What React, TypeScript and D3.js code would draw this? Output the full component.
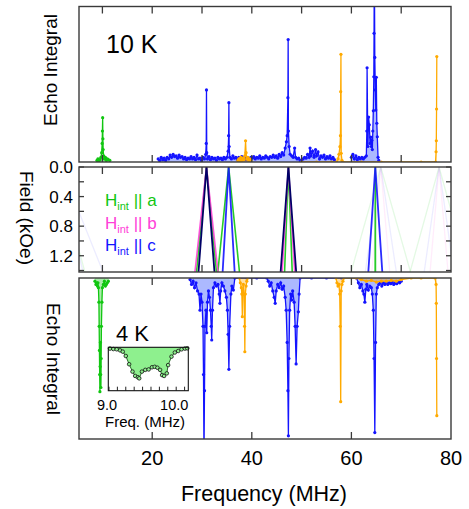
import React from 'react';
import * as d3 from 'd3';

type P = [number, number] | null;

// ---------- DATA (frequency MHz, normalised echo integral) ----------
const green10K: P[] = [
  [8.9, 0.01], [9.1, 0.02], [9.3, 0.005], [9.5, 0.015], [9.7, 0.03], [9.85, 0.06], [9.95, 0.12],
  [10.0, 0.2], [10.05, 0.286], [10.1, 0.15], [10.15, 0.08], [10.25, 0.04], [10.4, 0.02], [10.6, 0.03],
  [10.8, 0.01], [11.0, 0.02], [11.2, 0.015], [11.5, 0.01],
];

const blue10K: P[] = [
  [21.2, 0.02], [21.5, 0.01], [21.8, 0.03], [22.1, 0.015], [22.4, 0.025], [22.7, 0.01], [23.0, 0.03],
  [23.3, 0.02], [23.6, 0.045], [23.9, 0.03], [24.2, 0.05], [24.5, 0.035], [24.8, 0.04], [25.1, 0.025],
  [25.4, 0.045], [25.7, 0.03], [26.0, 0.035], [26.3, 0.02], [26.6, 0.03], [26.9, 0.015], [27.2, 0.025],
  [27.5, 0.02], [27.8, 0.035], [28.1, 0.02], [28.4, 0.03], [28.7, 0.015], [29.0, 0.045], [29.3, 0.02],
  [29.6, 0.025], [29.9, 0.01], [30.2, 0.03], [30.5, 0.02], [30.75, 0.05], [30.85, 0.12], [30.9, 0.465],
  [30.95, 0.06], [31.1, 0.02], [31.4, 0.035], [31.7, 0.015], [32.0, 0.03], [32.3, 0.02], [32.6, 0.025],
  [32.9, 0.01], [33.2, 0.03], [33.5, 0.02], [33.8, 0.025], [34.1, 0.015], [34.4, 0.03], [34.7, 0.02],
  [35.0, 0.03], [35.25, 0.07], [35.35, 0.17], [35.4, 0.383], [35.45, 0.1], [35.6, 0.03], [35.9, 0.02],
  [36.2, 0.04], [36.5, 0.025], [36.8, 0.03], [37.1, 0.015], [37.4, 0.03], [37.7, 0.02], [38.0, 0.035],
  [38.3, 0.02], [38.6, 0.03], [38.9, 0.015], [39.2, 0.025], [39.5, 0.02], [39.8, 0.03], [40.1, 0.025],
  [40.4, 0.035], [40.7, 0.02], [41.0, 0.03], [41.3, 0.025], [41.6, 0.04], [41.9, 0.02], [42.2, 0.03],
  [42.5, 0.025], [42.8, 0.04], [43.1, 0.03], [43.4, 0.02], [43.7, 0.035], [44.0, 0.03], [44.3, 0.045],
  [44.6, 0.03], [44.9, 0.04], [45.2, 0.025], [45.5, 0.05], [45.8, 0.035], [46.1, 0.06], [46.4, 0.045],
  [46.7, 0.09], [46.95, 0.13], [47.1, 0.17], [47.25, 0.415], [47.3, 0.79], [47.35, 0.2], [47.5, 0.1],
  [47.7, 0.05], [48.0, 0.04], [48.3, 0.03], [48.6, 0.09], [48.8, 0.03], [49.1, 0.02], [49.4, 0.025],
  [49.7, 0.01], [50.0, 0.0], [50.3, 0.02], [50.6, 0.03], [50.9, 0.025], [51.2, 0.05], [51.5, 0.03],
  [51.7, 0.09], [51.9, 0.04], [52.2, 0.07], [52.5, 0.03], [52.8, 0.08], [53.0, 0.04], [53.3, 0.065],
  [53.6, 0.02], [53.9, 0.04], [54.2, 0.03], [54.5, 0.045], [54.8, 0.02], [55.1, 0.035], [55.4, 0.025],
  [55.7, 0.04], [56.0, 0.02], [56.3, 0.03], [56.6, 0.015], null,
  [60.0, 0.03], [60.3, 0.05], [60.6, 0.02], [60.9, 0.04], [61.2, 0.015], [61.5, 0.03], [61.8, 0.02],
  [62.1, 0.03], [62.4, 0.02], [62.7, 0.03], [63.0, 0.04], [63.1, 0.2], [63.15, 0.608], [63.3, 0.1],
  [63.45, 0.29], [63.6, 0.24], [63.75, 0.12], [63.9, 0.16], [64.0, 0.1], [64.1, 0.14], [64.2, 0.08],
  [64.3, 0.2], [64.4, 0.33], [64.5, 0.55], [64.55, 0.83], [64.6, 1.35], [64.7, 0.675], [64.8, 0.465],
  [64.9, 0.335], [65.0, 0.546], [65.1, 0.25], [65.2, 0.163], [65.35, 0.03], [65.5, 0.01],
];

const orange10K: P[] = [
  [37.2, 0.01], [37.4, 0.02], [37.6, 0.005], [37.8, 0.03], [38.0, 0.01], [38.2, 0.025], [38.4, 0.015],
  [38.6, 0.04], [38.75, 0.137], [38.85, 0.06], [39.0, 0.02], [39.2, 0.03], [39.4, 0.01], [39.6, 0.02],
  [39.8, 0.01], null,
  [50.0, 0], [53.0, 0], [56.0, 0], [57.0, 0.0], [57.3, 0.02], [57.5, 0.05], [57.7, 0.099], [57.8, 0.17],
  [57.85, 0.454], [57.9, 0.695], [57.95, 0.056], [58.1, 0.01], [58.3, 0], [62.0, 0], [66.0, 0],
  [70.0, 0], [74.0, 0], [76.9, 0.0], [77.0, 0.066], [77.05, 0.137], [77.1, 0.342], [77.15, 0.68],
];

// 4 K: depth of the (downward-drawn) echo integral
const green4K: P[] = [
  [8.5, 0.02], [8.7, 0.04], [8.9, 0.03], [9.0, 0.05], [9.1, 0.03], [9.2, 0.06], [9.3, 0.15],
  [9.35, 0.3], [9.4, 0.45], [9.45, 0.6], [9.5, 0.706], [9.55, 0.55], [9.6, 0.4], [9.65, 0.6],
  [9.7, 0.68], [9.75, 0.5], [9.8, 0.3], [9.9, 0.15], [10.0, 0.06], [10.2, 0.04], [10.4, 0.02],
  [10.6, 0.05], [10.8, 0.04], [11.0, 0.03], [11.2, 0.02],
];

const blue4K: P[] = [
  [27.6, 0.01], [27.9, 0.04], [28.2, 0.02], [28.5, 0.06], [28.8, 0.03], [29.1, 0.08], [29.4, 0.1],
  [29.6, 0.2], [29.8, 0.1], [30.0, 0.15], [30.2, 0.3], [30.3, 0.6], [30.4, 1.1], [30.5, 0.7],
  [30.6, 0.3], [30.8, 0.2], [30.95, 0.34], [31.1, 0.15], [31.3, 0.08], [31.5, 0.12], [31.7, 0.2],
  [31.85, 0.3], [31.95, 0.385], [32.1, 0.2], [32.3, 0.06], [32.6, 0.03], [32.9, 0.05], [33.2, 0.04],
  [33.45, 0.1], [33.6, 0.157], [33.75, 0.08], [34.0, 0.03], [34.3, 0.05], [34.6, 0.08], [34.9, 0.12],
  [35.1, 0.2], [35.25, 0.35], [35.4, 0.567], [35.55, 0.3], [35.8, 0.1], [36.0, 0.05], [36.3, 0.075],
  [36.6, 0.0], [39.0, 0.0], [41.0, 0.0], [43.0, 0.0], [43.3, 0.02], [43.6, 0.05], [43.9, 0.03],
  [44.2, 0.08], [44.5, 0.12], [44.7, 0.157], [44.9, 0.08], [45.2, 0.04], [45.5, 0.06], [45.8, 0.03],
  [46.1, 0.07], [46.4, 0.05], [46.7, 0.12], [46.9, 0.2], [47.1, 0.4], [47.25, 0.7], [47.35, 0.98],
  [47.45, 0.5], [47.6, 0.2], [47.8, 0.1], [48.0, 0.137], [48.2, 0.08], [48.5, 0.15], [48.7, 0.3],
  [48.9, 0.534], [49.1, 0.3], [49.35, 0.21], [49.5, 0.1], [49.7, 0.0], [52.0, 0.0], [55.0, 0.0],
  [58.0, 0.0], [61.0, 0.0], [61.4, 0.03], [61.7, 0.06], [62.0, 0.04], [62.3, 0.08], [62.5, 0.1],
  [62.7, 0.15], [62.9, 0.07], [63.1, 0.04], [63.4, 0.075], [63.7, 0.05], [64.0, 0.06], [64.2, 0.1],
  [64.4, 0.2], [64.55, 0.5], [64.7, 0.96], [64.85, 0.4], [65.0, 0.1], [65.2, 0.06], [65.5, 0.04],
  [65.8, 0.03], [66.1, 0.05], [66.4, 0.03], [66.7, 0.04], [67.0, 0.025], [67.3, 0.04], [67.6, 0.03],
  [67.9, 0.035], [68.2, 0.025], [68.5, 0.04], [68.8, 0.03], [69.1, 0.035], [69.4, 0.025], [69.7, 0.03],
  [70.0, 0.02],
];

const orange4K: P[] = [
  [37.5, 0.0], [37.7, 0.03], [37.9, 0.06], [38.0, 0.1], [38.1, 0.24], [38.2, 0.08], [38.3, 0.04],
  [38.45, 0.1], [38.55, 0.3], [38.6, 0.458], [38.7, 0.1], [38.85, 0.05], [39.0, 0.02], [39.2, 0.0], null,
  [56.9, 0.0], [57.1, 0.03], [57.3, 0.05], [57.5, 0.04], [57.65, 0.1], [57.75, 0.3], [57.85, 0.768],
  [57.95, 0.08], [58.1, 0.04], [58.3, 0.02], [58.5, 0.0], [61.0, 0.0], [62.0, 0.01], [63.0, 0.02],
  [64.0, 0.015], [65.0, 0.025], [66.0, 0.02], [67.0, 0.02], [68.0, 0.015], [69.0, 0.02], [70.0, 0.01],
  [72.0, 0.0], [74.0, 0.0], [76.8, 0.0], [77.0, 0.04], [77.05, 0.157], [77.1, 0.5], [77.15, 0.855],
];

// inset: 4 K green line, 9.0–10.2 MHz
const insetData: [number, number][] = [
  [9.015, 0.03], [9.065, 0.04], [9.115, 0.046], [9.165, 0.07], [9.205, 0.1], [9.25, 0.2], [9.3, 0.39],
  [9.35, 0.56], [9.39, 0.66], [9.43, 0.69], [9.45, 0.715], [9.49, 0.56], [9.54, 0.52], [9.59, 0.51],
  [9.64, 0.46], [9.68, 0.45], [9.72, 0.47], [9.76, 0.52], [9.79, 0.64], [9.82, 0.66], [9.86, 0.6],
  [9.88, 0.41], [9.93, 0.215], [9.98, 0.12], [10.03, 0.085], [10.08, 0.046], [10.13, 0.03], [10.165, 0.023],
];

// Field panel: zero-field line frequency (MHz), splitting slope (MHz/kOe), field direction
const vApex = [1.67, 0.8, 1.14, 30.9, 30.9, 30.9, 35.35, 35.35, 47.35, 47.35, 47.35, 64.8, 64.8,
  65.9, 65.9, 65.9, 77.6, 77.6, 77.6];
const vSlope = [5.95, 4.0, 3.5, 1.63, 1.41, 1.13, 1.53, 0.85, 1.1, 0.89, 0.54, 0.99, 0.02,
  1.27, 2.2, 4.2, 1.27, 2.1, 4.1];
const vAxis = ['fc', 'fa', 'fc', 'b', 'a', 'n', 'a', 'c', 'n', 'b', 'a', 'c', 'a',
  'fb', 'fc', 'fa', 'fb', 'fc', 'fa'];

const topXTicks = [10, 20, 30, 40, 50, 60, 70];
const bottomXTicks = [20, 40, 60];
const xTickLabels = [20, 40, 60, 80];
const fieldTicks = [0, 0.2, 0.4, 0.6, 0.8, 1.0, 1.2, 1.4];
const fieldTickLabels = [0.0, 0.4, 0.8, 1.2];
const insetTicks = [9.0, 9.125, 9.25, 9.375, 9.5, 9.625, 9.75, 9.875, 10.0, 10.125];
const insetTickLabels = [9.0, 10.0];
const legendLabels = ['a', 'b', 'c'];

// ---------- STYLE ----------
const GREEN = '#11c611';
const BLUE = '#1414ff';
const ORANGE = '#ffaa00';
const MAGENTA = '#ff40d8';
const NAVY = '#000066';
const FONT = '"Liberation Sans", Arial, Helvetica, sans-serif';
const FRAME = '#3a3a3a';

const lineColors: Record<string, [string, number, number]> = {
  a: [GREEN, 0.9, 1.6],
  b: [MAGENTA, 0.9, 1.6],
  c: [BLUE, 0.9, 1.8],
  n: [NAVY, 1, 1.8],
  fa: ['#22cc22', 0.12, 1.3],
  fb: ['#ff60e0', 0.12, 1.3],
  fc: ['#6060ff', 0.12, 1.3],
};

const L = 79, R = 451;
const TOP = { t: 6.5, b: 162 };
const MID = { t: 167, b: 272 };
const BOT = { t: 278, b: 439 };
const INSET = { l: 108.3, r: 188.3, t: 347.3, b: 390.7 };

const x = d3.scaleLinear().domain([5.3, 80]).range([L, R]);
const yTop = d3.scaleLinear().domain([0, 1]).range([TOP.b, TOP.t + 0.5]);
const yBot = d3.scaleLinear().domain([0, 1]).range([BOT.t, BOT.b]);
const yMid = d3.scaleLinear().domain([0, 1.42]).range([MID.t, MID.b]);
const xIn = d3.scaleLinear().domain([8.99, 10.18]).range([INSET.l, INSET.r]);
const yIn = d3.scaleLinear().domain([0, 1]).range([INSET.t, INSET.b]);

function Series({ data, y, color, fill }: { data: P[]; y: any; color: string; fill: string }) {
  const line = d3.line<P>().defined((d) => d !== null).x((d) => x(d![0])).y((d) => y(d![1]));
  const area = d3.area<P>().defined((d) => d !== null).x((d) => x(d![0])).y0(y(0)).y1((d) => y(d![1]));
  const pts = data.filter((d) => d !== null) as [number, number][];
  return (
    <g>
      <path d={area(data) || ''} fill={fill} stroke="none" />
      <path d={line(data) || ''} fill="none" stroke={color} strokeWidth={1.3} />
      {pts.map((d, i) => (
        <circle key={i} cx={x(d[0])} cy={y(d[1])} r={1.6} fill={color} />
      ))}
    </g>
  );
}

function XTicks({ values, y0, y1, len }: { values: number[]; y0: number; y1: number; len: number }) {
  return (
    <g stroke={FRAME} strokeWidth={1.3}>
      {values.map((v) => (
        <g key={v}>
          <line x1={x(v)} x2={x(v)} y1={y0} y2={y0 + len} />
          <line x1={x(v)} x2={x(v)} y1={y1} y2={y1 - len} />
        </g>
      ))}
    </g>
  );
}

export default function App() {
  const vLine = d3.line<[number, number]>().x((d) => x(d[0])).y((d) => yMid(d[1]));
  const Hmax = 1.42;
  const order = ['fa', 'fb', 'fc', 'a', 'b', 'c', 'n'];
  const vIdx = vApex.map((_, i) => i).sort((a, b) => order.indexOf(vAxis[a]) - order.indexOf(vAxis[b]));
  const legendColors = [GREEN, MAGENTA, BLUE];

  const inLine = d3.line<[number, number]>().x((d) => xIn(d[0])).y((d) => yIn(d[1]));
  const inArea = d3.area<[number, number]>().x((d) => xIn(d[0])).y0(yIn(0)).y1((d) => yIn(d[1]));

  return (
    <svg width={469} height={509} style={{ position: 'absolute', left: 0, top: 0, background: '#fff' }}
      fontFamily={FONT}>
      <defs>
        <clipPath id="cTop"><rect x={L} y={TOP.t} width={R - L} height={TOP.b - TOP.t} /></clipPath>
        <clipPath id="cMid"><rect x={L} y={MID.t} width={R - L} height={MID.b - MID.t} /></clipPath>
        <clipPath id="cBot"><rect x={L} y={BOT.t} width={R - L} height={BOT.b - BOT.t} /></clipPath>
      </defs>
      <rect x={0} y={0} width={469} height={509} fill="#fff" />

      {/* ---------- top panel 10 K ---------- */}
      <g clipPath="url(#cTop)">
        <Series data={blue10K} y={yTop} color={BLUE} fill="rgba(70,100,255,0.45)" />
        <Series data={orange10K} y={yTop} color={ORANGE} fill="rgba(255,170,0,0.35)" />
        <Series data={green10K} y={yTop} color={GREEN} fill="rgba(17,198,17,0.35)" />
      </g>
      <XTicks values={topXTicks} y0={TOP.t} y1={TOP.b} len={7} />
      <rect x={L} y={TOP.t} width={R - L} height={TOP.b - TOP.t} fill="none" stroke={FRAME} strokeWidth={1.4} />
      <text x={106} y={52.5} fontSize={25}>10 K</text>
      <text transform={`translate(57,70) rotate(-90)`} fontSize={19} textAnchor="middle">Echo Integral</text>

      {/* ---------- middle panel: field ---------- */}
      <g clipPath="url(#cMid)">
        {vIdx.map((i) => {
          const f0 = vApex[i], s = vSlope[i];
          const [c, op, w] = lineColors[vAxis[i]];
          const pts: [number, number][] = [[f0 - s * Hmax, Hmax], [f0, 0], [f0 + s * Hmax, Hmax]];
          return <path key={i} d={vLine(pts) || ''} fill="none" stroke={c} strokeOpacity={op} strokeWidth={w} />;
        })}
      </g>
      <XTicks values={topXTicks} y0={MID.t} y1={MID.b} len={7} />
      <g stroke={FRAME} strokeWidth={1.3}>
        {fieldTicks.map((v) => (
          <g key={v}>
            <line x1={L} x2={L + 5} y1={yMid(v)} y2={yMid(v)} />
            <line x1={R} x2={R - 5} y1={yMid(v)} y2={yMid(v)} />
          </g>
        ))}
      </g>
      <rect x={L} y={MID.t} width={R - L} height={MID.b - MID.t} fill="none" stroke={FRAME} strokeWidth={1.4} />
      {fieldTickLabels.map((v) => (
        <text key={v} x={73} y={yMid(v) + 6} fontSize={17} textAnchor="end">{v.toFixed(1)}</text>
      ))}
      <text transform={`translate(20,218) rotate(90)`} fontSize={19} textAnchor="middle">Field (kOe)</text>
      {legendLabels.map((l, i) => (
        <text key={l} x={105} y={206 + i * 22.5} fontSize={17} fill={legendColors[i]}>
          H<tspan fontSize={11} dy={4}>int</tspan><tspan dy={-4}>{' || ' + l}</tspan>
        </text>
      ))}

      {/* ---------- bottom panel 4 K ---------- */}
      <g clipPath="url(#cBot)">
        <Series data={blue4K} y={yBot} color={BLUE} fill="rgba(70,100,255,0.45)" />
        <Series data={orange4K} y={yBot} color={ORANGE} fill="rgba(255,170,0,0.35)" />
        <Series data={green4K} y={yBot} color={GREEN} fill="rgba(17,198,17,0.35)" />
      </g>
      <XTicks values={bottomXTicks} y0={BOT.t} y1={BOT.b} len={7} />
      <rect x={L} y={BOT.t} width={R - L} height={BOT.b - BOT.t} fill="none" stroke={FRAME} strokeWidth={1.4} />
      <text x={116} y={340.5} fontSize={22}>4 K</text>
      <text transform={`translate(46.5,359) rotate(90)`} fontSize={19} textAnchor="middle">Echo Integral</text>
      {xTickLabels.map((v) => (
        <text key={v} x={x(v)} y={465} fontSize={20} textAnchor="middle">{v}</text>
      ))}
      <text x={264} y={501} fontSize={21.5} textAnchor="middle">Frequency (MHz)</text>

      {/* ---------- inset ---------- */}
      <rect x={INSET.l} y={INSET.t} width={INSET.r - INSET.l} height={INSET.b - INSET.t} fill="#fff" />
      <path d={inArea(insetData) || ''} fill="#8ef08e" />
      <path d={inLine(insetData) || ''} fill="none" stroke="#1a5a1a" strokeWidth={0.9} />
      {insetData.map((d, i) => (
        <circle key={i} cx={xIn(d[0])} cy={yIn(d[1])} r={1.8} fill="#8ef08e" stroke="#111" strokeWidth={0.8} />
      ))}
      <g stroke="#222" strokeWidth={1}>
        {insetTicks.map((v) => (
          <line key={v} x1={xIn(v)} x2={xIn(v)} y1={INSET.b} y2={INSET.b - 4} />
        ))}
      </g>
      <rect x={INSET.l} y={INSET.t} width={INSET.r - INSET.l} height={INSET.b - INSET.t} fill="none" stroke="#111" strokeWidth={1.1} />
      {insetTickLabels.map((v) => (
        <text key={v} x={xIn(v) - 2} y={409.5} fontSize={14.5} textAnchor="middle">{v.toFixed(1)}</text>
      ))}
      <text x={145} y={427} fontSize={15} textAnchor="middle">Freq. (MHz)</text>
    </svg>
  );
}
